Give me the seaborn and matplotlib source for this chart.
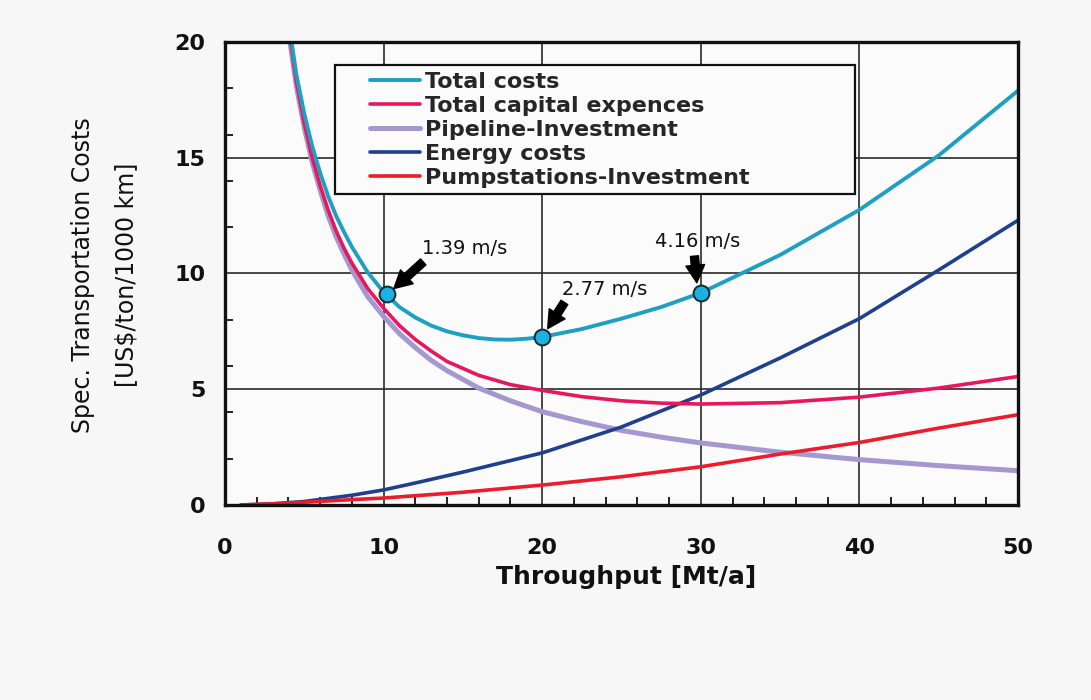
import numpy as np
import pandas as pd
import matplotlib
matplotlib.use("Agg")
import matplotlib.pyplot as plt
import seaborn as sns
from matplotlib.lines import Line2D
from matplotlib.legend_handler import HandlerLine2D
from matplotlib.ticker import MultipleLocator

sns.set_theme(style="white")
plt.rcParams['font.family'] = ['DejaVu Sans']

# ---- series (throughput in Mt/a, cost in US$/ton/1000 km) ----
x_total = [4.2, 4.5, 5, 5.5, 6, 6.5, 7, 7.5, 8, 9, 10, 11, 12, 13, 14, 15, 16, 17, 18, 19, 20,
           22.5, 25, 27.5, 30, 35, 40, 45, 50]
y_total = [20.0, 18.6, 16.9, 15.5, 14.35, 13.35, 12.5, 11.8, 11.15, 10.05, 9.2, 8.55,
           8.1, 7.75, 7.5, 7.33, 7.21, 7.15, 7.14, 7.18, 7.26, 7.6, 8.05, 8.55, 9.16,
           10.8, 12.75, 15.1, 17.9]

x_capital = [4.15, 4.5, 5, 5.5, 6, 6.5, 7, 7.5, 8, 9, 10, 11, 12, 13, 14, 16, 18, 20,
             22.5, 25, 27.5, 30, 35, 40, 45, 50]
y_capital = [20.0, 18.3, 16.5, 15.0, 13.8, 12.75, 11.85, 11.1, 10.45, 9.35, 8.5, 7.75,
             7.15, 6.65, 6.2, 5.6, 5.2, 4.95, 4.68, 4.5, 4.4, 4.36, 4.42, 4.66, 5.05, 5.55]

x_pipeline = [4.1, 4.5, 5, 5.5, 6, 6.5, 7, 7.5, 8, 9, 10, 11, 12, 13, 14, 16, 18, 20,
              22.5, 25, 27.5, 30, 35, 40, 45, 50]
y_pipeline = [20.0, 18.1, 16.3, 14.8, 13.6, 12.5, 11.6, 10.85, 10.15, 9.0, 8.15, 7.4,
              6.8, 6.25, 5.8, 5.05, 4.5, 4.03, 3.6, 3.22, 2.93, 2.68, 2.28, 1.96, 1.7, 1.48]

x_energy = [1, 3, 5, 8, 10, 12, 15, 20, 25, 30, 35, 40, 45, 50]
y_energy = [0.0, 0.05, 0.15, 0.42, 0.65, 0.95, 1.42, 2.25, 3.37, 4.75, 6.35, 8.05, 10.15, 12.3]

x_pump = [1, 3, 5, 8, 10, 15, 20, 25, 30, 35, 40, 45, 50]
y_pump = [0.0, 0.05, 0.12, 0.23, 0.3, 0.55, 0.86, 1.22, 1.65, 2.2, 2.7, 3.32, 3.9]

# flow velocities marked on the total cost curve
vel_x = [10.2, 20.0, 30.0]
vel_y = [9.12, 7.26, 9.16]
vel_labels = ["1.39 m/s", "2.77 m/s", "4.16 m/s"]

series = [
    ("Pipeline-Investment", x_pipeline, y_pipeline, "#a597d0", 3.6),
    ("Energy costs", x_energy, y_energy, "#1f3f8f", 2.6),
    ("Pumpstations-Investment", x_pump, y_pump, "#ec1c2a", 2.6),
    ("Total capital expences", x_capital, y_capital, "#e8175d", 2.6),
    ("Total costs", x_total, y_total, "#1f9fc2", 2.8),
]
legend_order = ["Total costs", "Total capital expences", "Pipeline-Investment",
                "Energy costs", "Pumpstations-Investment"]

fig = plt.figure(figsize=(10.91, 7.0), dpi=100, facecolor="#f7f7f7")
ax = fig.add_axes([0.2062, 0.2786, 0.7269, 0.6614])
ax.set_facecolor("#fbfbfb")

for name, xs, ys, col, lw in series:
    df = pd.DataFrame({"x": xs, "y": ys})
    sns.lineplot(data=df, x="x", y="y", ax=ax, color=col, lw=lw, label=name,
                 estimator=None, sort=True, solid_capstyle="round", solid_joinstyle="round")

vel_df = pd.DataFrame({"x": vel_x, "y": vel_y})
sns.scatterplot(data=vel_df, x="x", y="y", ax=ax, s=130, color="#19b2e3",
                edgecolor="#1a2a30", linewidth=1.4, zorder=6, legend=False)

# velocity labels with arrows
label_pos = [(15.1, 11.06), (23.96, 9.29), (29.8, 11.4)]
arrow_tail = [(12.5, 10.5), (21.4, 8.75), (29.6, 10.75)]
arrow_head = [(10.65, 9.35), (20.35, 7.62), (29.75, 9.6)]
for txt, (tx, ty), tail, head in zip(vel_labels, label_pos, arrow_tail, arrow_head):
    ax.text(tx, ty, txt, ha="center", va="center", fontsize=14, color="#111111", zorder=7)
    ax.annotate("", xy=head, xytext=tail,
                arrowprops=dict(arrowstyle="simple,head_length=0.7,head_width=0.75,tail_width=0.32",
                                color="black", shrinkA=0, shrinkB=0, mutation_scale=18),
                zorder=7)

ax.set_xlim(0, 50)
ax.set_ylim(0, 20)
ax.set_xticks(range(0, 51, 10))
ax.set_yticks(range(0, 21, 5))
ax.xaxis.set_minor_locator(MultipleLocator(2))
ax.yaxis.set_minor_locator(MultipleLocator(2))
ax.grid(True, which="major", color="#2a2a2a", lw=1.2)
ax.tick_params(which="major", length=0, labelsize=16, colors="#111111")
ax.tick_params(axis="y", which="major", pad=14)
ax.tick_params(axis="x", which="major", pad=24)
ax.tick_params(which="minor", direction="in", length=6, width=1.3, color="#111111",
               bottom=True, left=True, top=False, right=False)
for lab in ax.get_xticklabels() + ax.get_yticklabels():
    lab.set_fontweight("bold")
for sp in ax.spines.values():
    sp.set_color("#111111")
    sp.set_linewidth(2.4)

ax.set_xlabel("Throughput [Mt/a]", fontsize=18, fontweight="bold", color="#111111", va="center")
ax.xaxis.set_label_coords(0.506, -0.156)
ax.set_ylabel("Spec. Transportation Costs\n[US$/ton/1000 km]", fontsize=17, color="#111111",
              va="center", linespacing=2.0)
ax.yaxis.set_label_coords(-0.152, 0.497)

handles, labels = ax.get_legend_handles_labels()
hmap = dict(zip(labels, handles))
leg = ax.legend([hmap[n] for n in legend_order], legend_order,
                loc="upper left", bbox_to_anchor=(0.139, 0.5, 0.656, 0.45), mode="expand",
                borderaxespad=0, prop={"weight": "bold", "size": 16},
                frameon=True, fancybox=False, framealpha=1, borderpad=0.3,
                labelspacing=0.18, handlelength=3.5, handletextpad=0.25,
                handler_map={Line2D: HandlerLine2D(xpad=1.25)})
leg.get_frame().set_edgecolor("#111111")
leg.get_frame().set_linewidth(1.6)
leg.get_frame().set_facecolor("#fbfbfb")
leg.set_zorder(8)

fig.savefig("out.png", dpi=100, facecolor=fig.get_facecolor())
